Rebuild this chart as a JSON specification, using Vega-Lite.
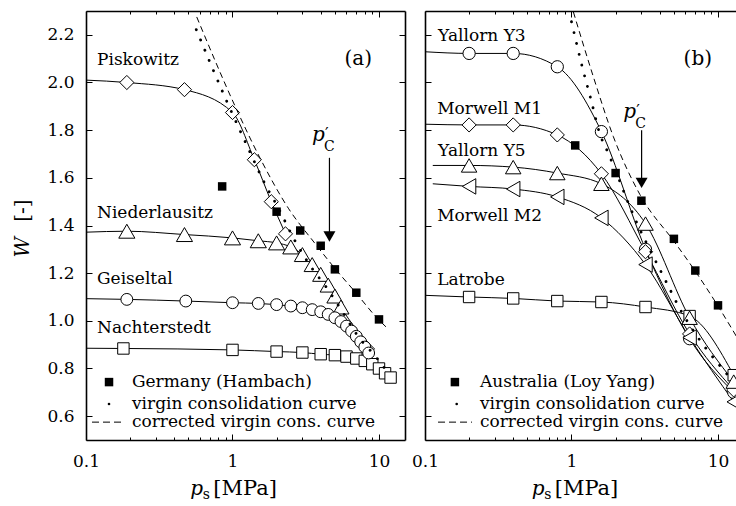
{
"$schema":"https://vega.github.io/schema/vega-lite/v6.json",
"background":"white",
"padding":{"left":12,"top":10,"right":0,"bottom":0},
"spacing":5,
"config":{"view":{"stroke":null},"axis":{"domainColor":"black","domainWidth":1.6,"tickColor":"black","tickWidth":1,"labelFont":"DejaVu Serif","labelFontSize":17,"labelColor":"black","grid":false},"text":{"font":"DejaVu Serif","fontSize":17,"color":"black"}},
"datasets":{
"markers":[
{"panel":"a","s":"Piskowitz","x":0.19,"y":2.0},{"panel":"a","s":"Piskowitz","x":0.47,"y":1.97},{"panel":"a","s":"Piskowitz","x":1.0,"y":1.874},{"panel":"a","s":"Piskowitz","x":1.41,"y":1.676},{"panel":"a","s":"Piskowitz","x":1.84,"y":1.5},{"panel":"a","s":"Piskowitz","x":2.3,"y":1.365},
{"panel":"a","s":"Niederlausitz","x":0.19,"y":1.376},{"panel":"a","s":"Niederlausitz","x":0.47,"y":1.362},{"panel":"a","s":"Niederlausitz","x":1.0,"y":1.348},{"panel":"a","s":"Niederlausitz","x":1.5,"y":1.336},{"panel":"a","s":"Niederlausitz","x":2.0,"y":1.327},{"panel":"a","s":"Niederlausitz","x":2.5,"y":1.31},{"panel":"a","s":"Niederlausitz","x":3.0,"y":1.278},{"panel":"a","s":"Niederlausitz","x":3.5,"y":1.236},{"panel":"a","s":"Niederlausitz","x":4.0,"y":1.195},{"panel":"a","s":"Niederlausitz","x":4.5,"y":1.15},{"panel":"a","s":"Niederlausitz","x":5.0,"y":1.104},{"panel":"a","s":"Niederlausitz","x":5.5,"y":1.058},
{"panel":"a","s":"Geiseltal","x":0.19,"y":1.09},{"panel":"a","s":"Geiseltal","x":0.48,"y":1.083},{"panel":"a","s":"Geiseltal","x":1,"y":1.076},{"panel":"a","s":"Geiseltal","x":1.5,"y":1.073},{"panel":"a","s":"Geiseltal","x":2,"y":1.068},{"panel":"a","s":"Geiseltal","x":2.5,"y":1.062},{"panel":"a","s":"Geiseltal","x":3,"y":1.055},{"panel":"a","s":"Geiseltal","x":3.5,"y":1.047},{"panel":"a","s":"Geiseltal","x":4,"y":1.038},{"panel":"a","s":"Geiseltal","x":4.5,"y":1.027},{"panel":"a","s":"Geiseltal","x":5,"y":1.013},{"panel":"a","s":"Geiseltal","x":5.5,"y":0.997},{"panel":"a","s":"Geiseltal","x":6,"y":0.978},{"panel":"a","s":"Geiseltal","x":6.5,"y":0.957},{"panel":"a","s":"Geiseltal","x":7,"y":0.935},{"panel":"a","s":"Geiseltal","x":7.5,"y":0.912},{"panel":"a","s":"Geiseltal","x":8,"y":0.89},{"panel":"a","s":"Geiseltal","x":8.5,"y":0.865},
{"panel":"a","s":"Nachterstedt","x":0.18,"y":0.884},{"panel":"a","s":"Nachterstedt","x":1,"y":0.878},{"panel":"a","s":"Nachterstedt","x":2,"y":0.871},{"panel":"a","s":"Nachterstedt","x":3,"y":0.867},{"panel":"a","s":"Nachterstedt","x":4,"y":0.86},{"panel":"a","s":"Nachterstedt","x":5,"y":0.856},{"panel":"a","s":"Nachterstedt","x":6,"y":0.85},{"panel":"a","s":"Nachterstedt","x":7,"y":0.842},{"panel":"a","s":"Nachterstedt","x":8,"y":0.832},{"panel":"a","s":"Nachterstedt","x":9,"y":0.818},{"panel":"a","s":"Nachterstedt","x":10,"y":0.8},{"panel":"a","s":"Nachterstedt","x":11,"y":0.78},{"panel":"a","s":"Nachterstedt","x":12,"y":0.762},
{"panel":"b","s":"Yallorn Y3","x":0.2,"y":2.122},{"panel":"b","s":"Yallorn Y3","x":0.4,"y":2.122},{"panel":"b","s":"Yallorn Y3","x":0.8,"y":2.066},{"panel":"b","s":"Yallorn Y3","x":1.6,"y":1.794},{"panel":"b","s":"Yallorn Y3","x":3.2,"y":1.3},{"panel":"b","s":"Yallorn Y3","x":6.4,"y":0.925},{"panel":"b","s":"Yallorn Y3","x":12.8,"y":0.7},
{"panel":"b","s":"Morwell M1","x":0.2,"y":1.822},{"panel":"b","s":"Morwell M1","x":0.4,"y":1.822},{"panel":"b","s":"Morwell M1","x":0.8,"y":1.78},{"panel":"b","s":"Morwell M1","x":1.6,"y":1.617},{"panel":"b","s":"Morwell M1","x":3.2,"y":1.29},{"panel":"b","s":"Morwell M1","x":6.4,"y":0.945},{"panel":"b","s":"Morwell M1","x":12.8,"y":0.71},
{"panel":"b","s":"Yallorn Y5","x":0.2,"y":1.652},{"panel":"b","s":"Yallorn Y5","x":0.4,"y":1.645},{"panel":"b","s":"Yallorn Y5","x":0.8,"y":1.62},{"panel":"b","s":"Yallorn Y5","x":1.6,"y":1.575},{"panel":"b","s":"Yallorn Y5","x":3.2,"y":1.408},{"panel":"b","s":"Yallorn Y5","x":6.4,"y":1.013},{"panel":"b","s":"Yallorn Y5","x":12.8,"y":0.745},
{"panel":"b","s":"Morwell M2","x":0.2,"y":1.564},{"panel":"b","s":"Morwell M2","x":0.4,"y":1.553},{"panel":"b","s":"Morwell M2","x":0.8,"y":1.52},{"panel":"b","s":"Morwell M2","x":1.6,"y":1.432},{"panel":"b","s":"Morwell M2","x":3.2,"y":1.236},{"panel":"b","s":"Morwell M2","x":6.4,"y":0.93},{"panel":"b","s":"Morwell M2","x":12.8,"y":0.66},
{"panel":"b","s":"Latrobe","x":0.2,"y":1.1},{"panel":"b","s":"Latrobe","x":0.4,"y":1.094},{"panel":"b","s":"Latrobe","x":0.8,"y":1.083},{"panel":"b","s":"Latrobe","x":1.6,"y":1.079},{"panel":"b","s":"Latrobe","x":3.2,"y":1.058},{"panel":"b","s":"Latrobe","x":6.4,"y":1.02},{"panel":"b","s":"Latrobe","x":12.8,"y":0.772}
],
"curves":[
{"panel":"a","s":"Piskowitz","x":0.1,"y":2.01},{"panel":"a","s":"Piskowitz","x":0.19,"y":2.0},{"panel":"a","s":"Piskowitz","x":0.47,"y":1.97},{"panel":"a","s":"Piskowitz","x":1.0,"y":1.874},{"panel":"a","s":"Piskowitz","x":1.41,"y":1.676},{"panel":"a","s":"Piskowitz","x":1.84,"y":1.5},{"panel":"a","s":"Piskowitz","x":2.3,"y":1.365},
{"panel":"a","s":"Niederlausitz","x":0.1,"y":1.372},{"panel":"a","s":"Niederlausitz","x":0.19,"y":1.376},{"panel":"a","s":"Niederlausitz","x":0.47,"y":1.362},{"panel":"a","s":"Niederlausitz","x":1.0,"y":1.348},{"panel":"a","s":"Niederlausitz","x":1.5,"y":1.336},{"panel":"a","s":"Niederlausitz","x":2.0,"y":1.327},{"panel":"a","s":"Niederlausitz","x":2.5,"y":1.31},{"panel":"a","s":"Niederlausitz","x":3.0,"y":1.278},{"panel":"a","s":"Niederlausitz","x":3.5,"y":1.236},{"panel":"a","s":"Niederlausitz","x":4.0,"y":1.195},{"panel":"a","s":"Niederlausitz","x":4.5,"y":1.15},{"panel":"a","s":"Niederlausitz","x":5.0,"y":1.104},{"panel":"a","s":"Niederlausitz","x":5.5,"y":1.058},{"panel":"a","s":"Niederlausitz","x":7.0,"y":0.965},{"panel":"a","s":"Niederlausitz","x":9.4,"y":0.88},
{"panel":"a","s":"Geiseltal","x":0.1,"y":1.093},{"panel":"a","s":"Geiseltal","x":0.19,"y":1.09},{"panel":"a","s":"Geiseltal","x":0.48,"y":1.083},{"panel":"a","s":"Geiseltal","x":1,"y":1.076},{"panel":"a","s":"Geiseltal","x":1.5,"y":1.073},{"panel":"a","s":"Geiseltal","x":2,"y":1.068},{"panel":"a","s":"Geiseltal","x":2.5,"y":1.062},{"panel":"a","s":"Geiseltal","x":3,"y":1.055},{"panel":"a","s":"Geiseltal","x":3.5,"y":1.047},{"panel":"a","s":"Geiseltal","x":4,"y":1.038},{"panel":"a","s":"Geiseltal","x":4.5,"y":1.027},{"panel":"a","s":"Geiseltal","x":5,"y":1.013},{"panel":"a","s":"Geiseltal","x":5.5,"y":0.997},{"panel":"a","s":"Geiseltal","x":6,"y":0.978},{"panel":"a","s":"Geiseltal","x":6.5,"y":0.957},{"panel":"a","s":"Geiseltal","x":7,"y":0.935},{"panel":"a","s":"Geiseltal","x":7.5,"y":0.912},{"panel":"a","s":"Geiseltal","x":8,"y":0.89},{"panel":"a","s":"Geiseltal","x":8.5,"y":0.865},
{"panel":"a","s":"Nachterstedt","x":0.1,"y":0.885},{"panel":"a","s":"Nachterstedt","x":0.18,"y":0.884},{"panel":"a","s":"Nachterstedt","x":1,"y":0.878},{"panel":"a","s":"Nachterstedt","x":2,"y":0.871},{"panel":"a","s":"Nachterstedt","x":3,"y":0.867},{"panel":"a","s":"Nachterstedt","x":4,"y":0.86},{"panel":"a","s":"Nachterstedt","x":5,"y":0.856},{"panel":"a","s":"Nachterstedt","x":6,"y":0.85},{"panel":"a","s":"Nachterstedt","x":7,"y":0.842},{"panel":"a","s":"Nachterstedt","x":8,"y":0.832},{"panel":"a","s":"Nachterstedt","x":9,"y":0.818},{"panel":"a","s":"Nachterstedt","x":10,"y":0.8},{"panel":"a","s":"Nachterstedt","x":11,"y":0.78},{"panel":"a","s":"Nachterstedt","x":12,"y":0.762},
{"panel":"b","s":"Yallorn Y3","x":0.1,"y":2.129},{"panel":"b","s":"Yallorn Y3","x":0.2,"y":2.122},{"panel":"b","s":"Yallorn Y3","x":0.4,"y":2.122},{"panel":"b","s":"Yallorn Y3","x":0.8,"y":2.066},{"panel":"b","s":"Yallorn Y3","x":1.6,"y":1.794},{"panel":"b","s":"Yallorn Y3","x":3.2,"y":1.3},{"panel":"b","s":"Yallorn Y3","x":6.4,"y":0.925},{"panel":"b","s":"Yallorn Y3","x":12.8,"y":0.7},
{"panel":"b","s":"Morwell M1","x":0.1,"y":1.825},{"panel":"b","s":"Morwell M1","x":0.2,"y":1.822},{"panel":"b","s":"Morwell M1","x":0.4,"y":1.822},{"panel":"b","s":"Morwell M1","x":0.8,"y":1.78},{"panel":"b","s":"Morwell M1","x":1.6,"y":1.617},{"panel":"b","s":"Morwell M1","x":3.2,"y":1.29},{"panel":"b","s":"Morwell M1","x":6.4,"y":0.945},{"panel":"b","s":"Morwell M1","x":12.8,"y":0.71},
{"panel":"b","s":"Yallorn Y5","x":0.113,"y":1.652},{"panel":"b","s":"Yallorn Y5","x":0.2,"y":1.652},{"panel":"b","s":"Yallorn Y5","x":0.4,"y":1.645},{"panel":"b","s":"Yallorn Y5","x":0.8,"y":1.62},{"panel":"b","s":"Yallorn Y5","x":1.6,"y":1.575},{"panel":"b","s":"Yallorn Y5","x":3.2,"y":1.408},{"panel":"b","s":"Yallorn Y5","x":6.4,"y":1.013},{"panel":"b","s":"Yallorn Y5","x":12.8,"y":0.745},
{"panel":"b","s":"Morwell M2","x":0.113,"y":1.575},{"panel":"b","s":"Morwell M2","x":0.2,"y":1.564},{"panel":"b","s":"Morwell M2","x":0.4,"y":1.553},{"panel":"b","s":"Morwell M2","x":0.8,"y":1.52},{"panel":"b","s":"Morwell M2","x":1.6,"y":1.432},{"panel":"b","s":"Morwell M2","x":3.2,"y":1.236},{"panel":"b","s":"Morwell M2","x":6.4,"y":0.93},{"panel":"b","s":"Morwell M2","x":12.8,"y":0.66},
{"panel":"b","s":"Latrobe","x":0.1,"y":1.107},{"panel":"b","s":"Latrobe","x":0.2,"y":1.1},{"panel":"b","s":"Latrobe","x":0.4,"y":1.094},{"panel":"b","s":"Latrobe","x":0.8,"y":1.083},{"panel":"b","s":"Latrobe","x":1.6,"y":1.079},{"panel":"b","s":"Latrobe","x":3.2,"y":1.058},{"panel":"b","s":"Latrobe","x":6.4,"y":1.02},{"panel":"b","s":"Latrobe","x":12.8,"y":0.772}
],
"virgin":[
{"panel":"a","x":0.566,"y":2.222},{"panel":"a","x":0.905,"y":1.927},{"panel":"a","x":1.25,"y":1.738},{"panel":"a","x":1.7,"y":1.564},{"panel":"a","x":2.0,"y":1.487},{"panel":"a","x":2.68,"y":1.334},{"panel":"a","x":3.43,"y":1.227},{"panel":"a","x":4.44,"y":1.135},{"panel":"a","x":5.5,"y":1.048},{"panel":"a","x":7.3,"y":0.93},{"panel":"a","x":9.4,"y":0.853},{"panel":"a","x":11.95,"y":0.769},
{"panel":"b","x":1.0,"y":2.255},{"panel":"b","x":1.19,"y":2.06},{"panel":"b","x":1.36,"y":1.927},{"panel":"b","x":1.55,"y":1.79},{"panel":"b","x":1.78,"y":1.704},{"panel":"b","x":2.03,"y":1.62},{"panel":"b","x":2.44,"y":1.495},{"panel":"b","x":2.93,"y":1.383},{"panel":"b","x":3.55,"y":1.28},{"panel":"b","x":4.46,"y":1.16},{"panel":"b","x":5.5,"y":1.05},{"panel":"b","x":6.85,"y":0.955},{"panel":"b","x":8.5,"y":0.875},{"panel":"b","x":10.2,"y":0.815},{"panel":"b","x":12.5,"y":0.75}
],
"corrected":[
{"panel":"a","x":0.57,"y":2.275},{"panel":"a","x":1.07,"y":1.885},{"panel":"a","x":1.55,"y":1.68},{"panel":"a","x":2.42,"y":1.47},{"panel":"a","x":3.6,"y":1.33},{"panel":"a","x":5.0,"y":1.22},{"panel":"a","x":6.9,"y":1.12},{"panel":"a","x":9.9,"y":1.006},{"panel":"a","x":11.6,"y":0.965},
{"panel":"b","x":1.03,"y":2.296},{"panel":"b","x":1.41,"y":2.024},{"panel":"b","x":1.93,"y":1.773},{"panel":"b","x":2.93,"y":1.53},{"panel":"b","x":5.1,"y":1.327},{"panel":"b","x":7.0,"y":1.208},{"panel":"b","x":10.0,"y":1.062},{"panel":"b","x":13.5,"y":0.93}
],
"exp":[
{"panel":"a","x":0.85,"y":1.564},{"panel":"a","x":2.0,"y":1.458},{"panel":"a","x":2.9,"y":1.379},{"panel":"a","x":4.0,"y":1.315},{"panel":"a","x":5.0,"y":1.216},{"panel":"a","x":7.0,"y":1.118},{"panel":"a","x":10.0,"y":1.006},
{"panel":"b","x":1.06,"y":1.736},{"panel":"b","x":2.0,"y":1.62},{"panel":"b","x":3.0,"y":1.504},{"panel":"b","x":5.0,"y":1.344},{"panel":"b","x":7.0,"y":1.211},{"panel":"b","x":10.0,"y":1.065}
],
"arrow":[
{"panel":"a","x":4.59,"y":1.684,"yh":1.354},
{"panel":"b","x":3.01,"y":1.8,"yh":1.579}
],
"pc":[
{"panel":"a","x":3.49,"y":1.755,"p":"p","prime":"′","sub":"C"},
{"panel":"b","x":2.258,"y":1.853,"p":"p","prime":"′","sub":"C"}
],
"labels":[
{"panel":"a","t":"Piskowitz","x":0.1189,"y":2.073},{"panel":"a","t":"Niederlausitz","x":0.1189,"y":1.432},{"panel":"a","t":"Geiseltal","x":0.1189,"y":1.153},{"panel":"a","t":"Nachterstedt","x":0.1189,"y":0.948},
{"panel":"a","t":"Germany (Hambach)","x":0.206,"y":0.722},{"panel":"a","t":"virgin consolidation curve","x":0.206,"y":0.632},{"panel":"a","t":"corrected virgin cons. curve","x":0.206,"y":0.553},
{"panel":"b","t":"Yallorn Y3","x":0.1227,"y":2.175},{"panel":"b","t":"Morwell M1","x":0.121,"y":1.867},{"panel":"b","t":"Yallorn Y5","x":0.1227,"y":1.692},{"panel":"b","t":"Morwell M2","x":0.121,"y":1.42},{"panel":"b","t":"Latrobe","x":0.121,"y":1.151},
{"panel":"b","t":"Australia (Loy Yang)","x":0.2372,"y":0.722},{"panel":"b","t":"virgin consolidation curve","x":0.2372,"y":0.632},{"panel":"b","t":"corrected virgin cons. curve","x":0.2372,"y":0.553}
],
"tags":[{"panel":"a","t":"(a)","x":8.96,"y":2.075},{"panel":"b","t":"(b)","x":9.1,"y":2.073}],
"legsq":[{"panel":"a","x":0.1436,"y":0.743},{"panel":"b","x":0.16,"y":0.743}],
"legdot":[{"panel":"a","x":0.1436,"y":0.651},{"panel":"b","x":0.1646,"y":0.651}],
"legdash":[{"panel":"a","x":0.1099,"y":0.575},{"panel":"a","x":0.1817,"y":0.575},{"panel":"b","x":0.1227,"y":0.575},{"panel":"b","x":0.2094,"y":0.575}],
"xtitle":[{"panel":"a","x":0.515,"y":0.27,"p":"p","s":"s","u":"[MPa]"},{"panel":"b","x":0.535,"y":0.27,"p":"p","s":"s","u":"[MPa]"}],
"ytitle":[{"panel":"a","x":0.0408,"y":1.266,"yb":1.416,"w":"W","b":"[-]"}]
},
"hconcat":[
{"width":319,"height":429,
"resolve":{"axis":{"x":"independent","y":"independent"}},
"layer":[
{"data":{"name":"curves"},"transform":[{"filter":"datum.panel=='a'"}],"mark":{"type":"line","color":"black","strokeWidth":1,"interpolate":"monotone","clip":true},
"encoding":{"x":{"field":"x","type":"quantitative","scale":{"type":"log","domain":[0.1,15.05],"nice":false},"axis":{"orient":"bottom","values":[0.1,0.2,0.3,0.4,0.5,0.6,0.7,0.8,0.9,1,2,3,4,5,6,7,8,9,10],"labelExpr":"datum.value==0.1?'0.1':datum.value==1?'1':datum.value==10?'10':''","tickSize":{"condition":{"test":"datum.value==0.1||datum.value==1||datum.value==10","value":-6},"value":-3},"labelPadding":19,"labelBaseline":"top","labelFlush":false,"labelOverlap":false,"labelFont":"DejaVu Serif","title":null}},
"y":{"field":"y","type":"quantitative","scale":{"domain":[0.5,2.3],"nice":false,"zero":false},"axis":{"orient":"left","values":[0.6,0.8,1.0,1.2,1.4,1.6,1.8,2.0,2.2],"format":".1f","tickSize":-6,"labelPadding":18,"labelFont":"DejaVu Serif","title":null}},
"detail":{"field":"s"}}},
{"data":{"name":"markers"},"transform":[{"filter":"datum.panel=='a' && datum.s=='Piskowitz'"}],"mark":{"type":"point","shape":"diamond","size":200,"filled":true,"fill":"white","stroke":"black","strokeWidth":1,"opacity":1,"clip":true},
"encoding":{"x":{"field":"x","type":"quantitative","scale":{"type":"log","domain":[0.1,15.05],"nice":false},"axis":{"orient":"top","values":[0.1,0.2,0.3,0.4,0.5,0.6,0.7,0.8,0.9,1,2,3,4,5,6,7,8,9,10],"labels":false,"tickSize":{"condition":{"test":"datum.value==0.1||datum.value==1||datum.value==10","value":-6},"value":-3},"title":null}},
"y":{"field":"y","type":"quantitative","scale":{"domain":[0.5,2.3],"nice":false,"zero":false},"axis":{"orient":"right","values":[0.6,0.8,1.0,1.2,1.4,1.6,1.8,2.0,2.2],"labels":false,"tickSize":-6,"title":null}}}},
{"data":{"name":"markers"},"transform":[{"filter":"datum.panel=='a' && datum.s=='Nachterstedt'"}],"mark":{"type":"point","shape":"square","size":130,"filled":true,"fill":"white","stroke":"black","strokeWidth":1,"opacity":1,"clip":true},
"encoding":{"x":{"field":"x","type":"quantitative","scale":{"type":"log","domain":[0.1,15.05],"nice":false},"axis":null},"y":{"field":"y","type":"quantitative","scale":{"domain":[0.5,2.3],"nice":false,"zero":false},"axis":null}}},
{"data":{"name":"markers"},"transform":[{"filter":"datum.panel=='a' && datum.s=='Niederlausitz'"}],"mark":{"type":"point","shape":"triangle-up","size":260,"filled":true,"fill":"white","stroke":"black","strokeWidth":1,"opacity":1,"clip":true},
"encoding":{"x":{"field":"x","type":"quantitative","scale":{"type":"log","domain":[0.1,15.05],"nice":false},"axis":null},"y":{"field":"y","type":"quantitative","scale":{"domain":[0.5,2.3],"nice":false,"zero":false},"axis":null}}},
{"data":{"name":"markers"},"transform":[{"filter":"datum.panel=='a' && datum.s=='Geiseltal'"}],"mark":{"type":"point","shape":"circle","size":140,"filled":true,"fill":"white","stroke":"black","strokeWidth":1,"opacity":1,"clip":true},
"encoding":{"x":{"field":"x","type":"quantitative","scale":{"type":"log","domain":[0.1,15.05],"nice":false},"axis":null},"y":{"field":"y","type":"quantitative","scale":{"domain":[0.5,2.3],"nice":false,"zero":false},"axis":null}}},
{"data":{"name":"corrected"},"transform":[{"filter":"datum.panel=='a'"}],"mark":{"type":"line","color":"black","strokeWidth":1,"strokeDash":[6,4],"interpolate":"monotone","clip":true},
"encoding":{"x":{"field":"x","type":"quantitative","scale":{"type":"log","domain":[0.1,15.05],"nice":false},"axis":null},"y":{"field":"y","type":"quantitative","scale":{"domain":[0.5,2.3],"nice":false,"zero":false},"axis":null}}},
{"data":{"name":"virgin"},"transform":[{"filter":"datum.panel=='a'"}],"mark":{"type":"line","color":"black","strokeWidth":2.8,"strokeDash":[0.1,11],"strokeCap":"round","interpolate":"monotone","clip":true},
"encoding":{"x":{"field":"x","type":"quantitative","scale":{"type":"log","domain":[0.1,15.05],"nice":false},"axis":null},"y":{"field":"y","type":"quantitative","scale":{"domain":[0.5,2.3],"nice":false,"zero":false},"axis":null}}},
{"data":{"name":"exp"},"transform":[{"filter":"datum.panel=='a'"}],"mark":{"type":"point","shape":"square","size":72,"filled":true,"color":"black","opacity":1,"clip":true},
"encoding":{"x":{"field":"x","type":"quantitative","scale":{"type":"log","domain":[0.1,15.05],"nice":false},"axis":null},"y":{"field":"y","type":"quantitative","scale":{"domain":[0.5,2.3],"nice":false,"zero":false},"axis":null}}},
{"data":{"name":"arrow"},"transform":[{"filter":"datum.panel=='a'"}],"mark":{"type":"rule","color":"black","strokeWidth":1.2},
"encoding":{"x":{"field":"x","type":"quantitative","scale":{"type":"log","domain":[0.1,15.05],"nice":false},"axis":null},"y":{"field":"y","type":"quantitative","scale":{"domain":[0.5,2.3],"nice":false,"zero":false},"axis":null},"y2":{"field":"yh"}}},
{"data":{"name":"arrow"},"transform":[{"filter":"datum.panel=='a'"}],"mark":{"type":"point","shape":"triangle-down","size":144,"filled":true,"color":"black","opacity":1},
"encoding":{"x":{"field":"x","type":"quantitative","scale":{"type":"log","domain":[0.1,15.05],"nice":false},"axis":null},"y":{"field":"yh","type":"quantitative","scale":{"domain":[0.5,2.3],"nice":false,"zero":false},"axis":null}}},
{"data":{"name":"labels"},"transform":[{"filter":"datum.panel=='a'"}],"mark":{"type":"text","align":"left","baseline":"alphabetic","font":"DejaVu Serif","fontSize":17,"clip":true},
"encoding":{"x":{"field":"x","type":"quantitative","scale":{"type":"log","domain":[0.1,15.05],"nice":false},"axis":null},"y":{"field":"y","type":"quantitative","scale":{"domain":[0.5,2.3],"nice":false,"zero":false},"axis":null},"text":{"field":"t"}}},
{"data":{"name":"tags"},"transform":[{"filter":"datum.panel=='a'"}],"mark":{"type":"text","align":"right","baseline":"alphabetic","font":"DejaVu Serif","fontSize":20},
"encoding":{"x":{"field":"x","type":"quantitative","scale":{"type":"log","domain":[0.1,15.05],"nice":false},"axis":null},"y":{"field":"y","type":"quantitative","scale":{"domain":[0.5,2.3],"nice":false,"zero":false},"axis":null},"text":{"field":"t"}}},
{"data":{"name":"pc"},"transform":[{"filter":"datum.panel=='a'"}],"mark":{"type":"text","align":"left","baseline":"alphabetic","font":"DejaVu Serif","fontSize":20,"fontStyle":"italic"},
"encoding":{"x":{"field":"x","type":"quantitative","scale":{"type":"log","domain":[0.1,15.05],"nice":false},"axis":null},"y":{"field":"y","type":"quantitative","scale":{"domain":[0.5,2.3],"nice":false,"zero":false},"axis":null},"text":{"field":"p"}}},
{"data":{"name":"pc"},"transform":[{"filter":"datum.panel=='a'"}],"mark":{"type":"text","align":"left","baseline":"alphabetic","font":"DejaVu Serif","fontSize":16,"dx":13,"dy":-2},
"encoding":{"x":{"field":"x","type":"quantitative","scale":{"type":"log","domain":[0.1,15.05],"nice":false},"axis":null},"y":{"field":"y","type":"quantitative","scale":{"domain":[0.5,2.3],"nice":false,"zero":false},"axis":null},"text":{"field":"prime"}}},
{"data":{"name":"pc"},"transform":[{"filter":"datum.panel=='a'"}],"mark":{"type":"text","align":"left","baseline":"alphabetic","font":"DejaVu Serif","fontSize":14,"dx":12,"dy":10.5},
"encoding":{"x":{"field":"x","type":"quantitative","scale":{"type":"log","domain":[0.1,15.05],"nice":false},"axis":null},"y":{"field":"y","type":"quantitative","scale":{"domain":[0.5,2.3],"nice":false,"zero":false},"axis":null},"text":{"field":"sub"}}},
{"data":{"name":"legsq"},"transform":[{"filter":"datum.panel=='a'"}],"mark":{"type":"point","shape":"square","size":72,"filled":true,"color":"black","opacity":1},
"encoding":{"x":{"field":"x","type":"quantitative","scale":{"type":"log","domain":[0.1,15.05],"nice":false},"axis":null},"y":{"field":"y","type":"quantitative","scale":{"domain":[0.5,2.3],"nice":false,"zero":false},"axis":null}}},
{"data":{"name":"legdot"},"transform":[{"filter":"datum.panel=='a'"}],"mark":{"type":"point","shape":"circle","size":7,"filled":true,"color":"black","opacity":1},
"encoding":{"x":{"field":"x","type":"quantitative","scale":{"type":"log","domain":[0.1,15.05],"nice":false},"axis":null},"y":{"field":"y","type":"quantitative","scale":{"domain":[0.5,2.3],"nice":false,"zero":false},"axis":null}}},
{"data":{"name":"legdash"},"transform":[{"filter":"datum.panel=='a'"}],"mark":{"type":"line","color":"black","strokeWidth":1,"strokeDash":[7,4]},
"encoding":{"x":{"field":"x","type":"quantitative","scale":{"type":"log","domain":[0.1,15.05],"nice":false},"axis":null},"y":{"field":"y","type":"quantitative","scale":{"domain":[0.5,2.3],"nice":false,"zero":false},"axis":null}}},
{"data":{"name":"xtitle"},"transform":[{"filter":"datum.panel=='a'"}],"mark":{"type":"text","align":"left","baseline":"alphabetic","font":"DejaVu Serif","fontSize":20,"fontStyle":"italic"},
"encoding":{"x":{"field":"x","type":"quantitative","scale":{"type":"log","domain":[0.1,15.05],"nice":false},"axis":null},"y":{"field":"y","type":"quantitative","scale":{"domain":[0.5,2.3],"nice":false,"zero":false},"axis":null},"text":{"field":"p"}}},
{"data":{"name":"xtitle"},"transform":[{"filter":"datum.panel=='a'"}],"mark":{"type":"text","align":"left","baseline":"alphabetic","font":"DejaVu Serif","fontSize":14,"dx":12.5,"dy":4},
"encoding":{"x":{"field":"x","type":"quantitative","scale":{"type":"log","domain":[0.1,15.05],"nice":false},"axis":null},"y":{"field":"y","type":"quantitative","scale":{"domain":[0.5,2.3],"nice":false,"zero":false},"axis":null},"text":{"field":"s"}}},
{"data":{"name":"xtitle"},"transform":[{"filter":"datum.panel=='a'"}],"mark":{"type":"text","align":"left","baseline":"alphabetic","font":"DejaVu Serif","fontSize":21,"dx":23},
"encoding":{"x":{"field":"x","type":"quantitative","scale":{"type":"log","domain":[0.1,15.05],"nice":false},"axis":null},"y":{"field":"y","type":"quantitative","scale":{"domain":[0.5,2.3],"nice":false,"zero":false},"axis":null},"text":{"field":"u"}}},
{"data":{"name":"ytitle"},"mark":{"type":"text","align":"left","baseline":"alphabetic","font":"DejaVu Serif","fontSize":20,"fontStyle":"italic","angle":270},
"encoding":{"x":{"field":"x","type":"quantitative","scale":{"type":"log","domain":[0.1,15.05],"nice":false},"axis":null},"y":{"field":"y","type":"quantitative","scale":{"domain":[0.5,2.3],"nice":false,"zero":false},"axis":null},"text":{"field":"w"}}},
{"data":{"name":"ytitle"},"mark":{"type":"text","align":"left","baseline":"alphabetic","font":"DejaVu Serif","fontSize":20,"angle":270},
"encoding":{"x":{"field":"x","type":"quantitative","scale":{"type":"log","domain":[0.1,15.05],"nice":false},"axis":null},"y":{"field":"yb","type":"quantitative","scale":{"domain":[0.5,2.3],"nice":false,"zero":false},"axis":null},"text":{"field":"b"}}}
]},
{"width":311,"height":429,
"resolve":{"axis":{"x":"independent","y":"independent"}},
"layer":[
{"data":{"name":"curves"},"transform":[{"filter":"datum.panel=='b'"}],"mark":{"type":"line","color":"black","strokeWidth":1,"interpolate":"monotone","clip":true},
"encoding":{"x":{"field":"x","type":"quantitative","scale":{"type":"log","domain":[0.1,13.27],"nice":false},"axis":{"orient":"bottom","values":[0.1,0.2,0.3,0.4,0.5,0.6,0.7,0.8,0.9,1,2,3,4,5,6,7,8,9,10],"labelExpr":"datum.value==0.1?'0.1':datum.value==1?'1':datum.value==10?'10':''","tickSize":{"condition":{"test":"datum.value==0.1||datum.value==1||datum.value==10","value":-6},"value":-3},"labelPadding":19,"labelBaseline":"top","labelFlush":false,"labelOverlap":false,"labelFont":"DejaVu Serif","title":null}},
"y":{"field":"y","type":"quantitative","scale":{"domain":[0.5,2.3],"nice":false,"zero":false},"axis":{"orient":"left","values":[0.6,0.8,1.0,1.2,1.4,1.6,1.8,2.0,2.2],"labels":false,"tickSize":-6,"title":null}},
"detail":{"field":"s"}}},
{"data":{"name":"markers"},"transform":[{"filter":"datum.panel=='b' && datum.s=='Latrobe'"}],"mark":{"type":"point","shape":"square","size":130,"filled":true,"fill":"white","stroke":"black","strokeWidth":1,"opacity":1,"clip":true},
"encoding":{"x":{"field":"x","type":"quantitative","scale":{"type":"log","domain":[0.1,13.27],"nice":false},"axis":{"orient":"top","values":[0.1,0.2,0.3,0.4,0.5,0.6,0.7,0.8,0.9,1,2,3,4,5,6,7,8,9,10],"labels":false,"tickSize":{"condition":{"test":"datum.value==0.1||datum.value==1||datum.value==10","value":-6},"value":-3},"title":null}},
"y":{"field":"y","type":"quantitative","scale":{"domain":[0.5,2.3],"nice":false,"zero":false},"axis":null}}},
{"data":{"name":"markers"},"transform":[{"filter":"datum.panel=='b' && datum.s=='Yallorn Y3'"}],"mark":{"type":"point","shape":"circle","size":150,"filled":true,"fill":"white","stroke":"black","strokeWidth":1,"opacity":1,"clip":true},
"encoding":{"x":{"field":"x","type":"quantitative","scale":{"type":"log","domain":[0.1,13.27],"nice":false},"axis":null},"y":{"field":"y","type":"quantitative","scale":{"domain":[0.5,2.3],"nice":false,"zero":false},"axis":null}}},
{"data":{"name":"markers"},"transform":[{"filter":"datum.panel=='b' && datum.s=='Morwell M1'"}],"mark":{"type":"point","shape":"diamond","size":200,"filled":true,"fill":"white","stroke":"black","strokeWidth":1,"opacity":1,"clip":true},
"encoding":{"x":{"field":"x","type":"quantitative","scale":{"type":"log","domain":[0.1,13.27],"nice":false},"axis":null},"y":{"field":"y","type":"quantitative","scale":{"domain":[0.5,2.3],"nice":false,"zero":false},"axis":null}}},
{"data":{"name":"markers"},"transform":[{"filter":"datum.panel=='b' && datum.s=='Morwell M2'"}],"mark":{"type":"point","shape":"triangle-left","size":240,"filled":true,"fill":"white","stroke":"black","strokeWidth":1,"opacity":1,"clip":true},
"encoding":{"x":{"field":"x","type":"quantitative","scale":{"type":"log","domain":[0.1,13.27],"nice":false},"axis":null},"y":{"field":"y","type":"quantitative","scale":{"domain":[0.5,2.3],"nice":false,"zero":false},"axis":null}}},
{"data":{"name":"markers"},"transform":[{"filter":"datum.panel=='b' && datum.s=='Yallorn Y5'"}],"mark":{"type":"point","shape":"triangle-up","size":240,"filled":true,"fill":"white","stroke":"black","strokeWidth":1,"opacity":1,"clip":true},
"encoding":{"x":{"field":"x","type":"quantitative","scale":{"type":"log","domain":[0.1,13.27],"nice":false},"axis":null},"y":{"field":"y","type":"quantitative","scale":{"domain":[0.5,2.3],"nice":false,"zero":false},"axis":null}}},
{"data":{"name":"corrected"},"transform":[{"filter":"datum.panel=='b'"}],"mark":{"type":"line","color":"black","strokeWidth":1,"strokeDash":[6,4],"interpolate":"monotone","clip":true},
"encoding":{"x":{"field":"x","type":"quantitative","scale":{"type":"log","domain":[0.1,13.27],"nice":false},"axis":null},"y":{"field":"y","type":"quantitative","scale":{"domain":[0.5,2.3],"nice":false,"zero":false},"axis":null}}},
{"data":{"name":"virgin"},"transform":[{"filter":"datum.panel=='b'"}],"mark":{"type":"line","color":"black","strokeWidth":2.8,"strokeDash":[0.1,11],"strokeCap":"round","interpolate":"monotone","clip":true},
"encoding":{"x":{"field":"x","type":"quantitative","scale":{"type":"log","domain":[0.1,13.27],"nice":false},"axis":null},"y":{"field":"y","type":"quantitative","scale":{"domain":[0.5,2.3],"nice":false,"zero":false},"axis":null}}},
{"data":{"name":"exp"},"transform":[{"filter":"datum.panel=='b'"}],"mark":{"type":"point","shape":"square","size":72,"filled":true,"color":"black","opacity":1,"clip":true},
"encoding":{"x":{"field":"x","type":"quantitative","scale":{"type":"log","domain":[0.1,13.27],"nice":false},"axis":null},"y":{"field":"y","type":"quantitative","scale":{"domain":[0.5,2.3],"nice":false,"zero":false},"axis":null}}},
{"data":{"name":"arrow"},"transform":[{"filter":"datum.panel=='b'"}],"mark":{"type":"rule","color":"black","strokeWidth":1.2},
"encoding":{"x":{"field":"x","type":"quantitative","scale":{"type":"log","domain":[0.1,13.27],"nice":false},"axis":null},"y":{"field":"y","type":"quantitative","scale":{"domain":[0.5,2.3],"nice":false,"zero":false},"axis":null},"y2":{"field":"yh"}}},
{"data":{"name":"arrow"},"transform":[{"filter":"datum.panel=='b'"}],"mark":{"type":"point","shape":"triangle-down","size":144,"filled":true,"color":"black","opacity":1},
"encoding":{"x":{"field":"x","type":"quantitative","scale":{"type":"log","domain":[0.1,13.27],"nice":false},"axis":null},"y":{"field":"yh","type":"quantitative","scale":{"domain":[0.5,2.3],"nice":false,"zero":false},"axis":null}}},
{"data":{"name":"labels"},"transform":[{"filter":"datum.panel=='b'"}],"mark":{"type":"text","align":"left","baseline":"alphabetic","font":"DejaVu Serif","fontSize":17,"clip":true},
"encoding":{"x":{"field":"x","type":"quantitative","scale":{"type":"log","domain":[0.1,13.27],"nice":false},"axis":null},"y":{"field":"y","type":"quantitative","scale":{"domain":[0.5,2.3],"nice":false,"zero":false},"axis":null},"text":{"field":"t"}}},
{"data":{"name":"tags"},"transform":[{"filter":"datum.panel=='b'"}],"mark":{"type":"text","align":"right","baseline":"alphabetic","font":"DejaVu Serif","fontSize":20},
"encoding":{"x":{"field":"x","type":"quantitative","scale":{"type":"log","domain":[0.1,13.27],"nice":false},"axis":null},"y":{"field":"y","type":"quantitative","scale":{"domain":[0.5,2.3],"nice":false,"zero":false},"axis":null},"text":{"field":"t"}}},
{"data":{"name":"pc"},"transform":[{"filter":"datum.panel=='b'"}],"mark":{"type":"text","align":"left","baseline":"alphabetic","font":"DejaVu Serif","fontSize":20,"fontStyle":"italic"},
"encoding":{"x":{"field":"x","type":"quantitative","scale":{"type":"log","domain":[0.1,13.27],"nice":false},"axis":null},"y":{"field":"y","type":"quantitative","scale":{"domain":[0.5,2.3],"nice":false,"zero":false},"axis":null},"text":{"field":"p"}}},
{"data":{"name":"pc"},"transform":[{"filter":"datum.panel=='b'"}],"mark":{"type":"text","align":"left","baseline":"alphabetic","font":"DejaVu Serif","fontSize":16,"dx":13,"dy":-2},
"encoding":{"x":{"field":"x","type":"quantitative","scale":{"type":"log","domain":[0.1,13.27],"nice":false},"axis":null},"y":{"field":"y","type":"quantitative","scale":{"domain":[0.5,2.3],"nice":false,"zero":false},"axis":null},"text":{"field":"prime"}}},
{"data":{"name":"pc"},"transform":[{"filter":"datum.panel=='b'"}],"mark":{"type":"text","align":"left","baseline":"alphabetic","font":"DejaVu Serif","fontSize":14,"dx":12,"dy":10.5},
"encoding":{"x":{"field":"x","type":"quantitative","scale":{"type":"log","domain":[0.1,13.27],"nice":false},"axis":null},"y":{"field":"y","type":"quantitative","scale":{"domain":[0.5,2.3],"nice":false,"zero":false},"axis":null},"text":{"field":"sub"}}},
{"data":{"name":"legsq"},"transform":[{"filter":"datum.panel=='b'"}],"mark":{"type":"point","shape":"square","size":72,"filled":true,"color":"black","opacity":1},
"encoding":{"x":{"field":"x","type":"quantitative","scale":{"type":"log","domain":[0.1,13.27],"nice":false},"axis":null},"y":{"field":"y","type":"quantitative","scale":{"domain":[0.5,2.3],"nice":false,"zero":false},"axis":null}}},
{"data":{"name":"legdot"},"transform":[{"filter":"datum.panel=='b'"}],"mark":{"type":"point","shape":"circle","size":7,"filled":true,"color":"black","opacity":1},
"encoding":{"x":{"field":"x","type":"quantitative","scale":{"type":"log","domain":[0.1,13.27],"nice":false},"axis":null},"y":{"field":"y","type":"quantitative","scale":{"domain":[0.5,2.3],"nice":false,"zero":false},"axis":null}}},
{"data":{"name":"legdash"},"transform":[{"filter":"datum.panel=='b'"}],"mark":{"type":"line","color":"black","strokeWidth":1,"strokeDash":[7,4]},
"encoding":{"x":{"field":"x","type":"quantitative","scale":{"type":"log","domain":[0.1,13.27],"nice":false},"axis":null},"y":{"field":"y","type":"quantitative","scale":{"domain":[0.5,2.3],"nice":false,"zero":false},"axis":null}}},
{"data":{"name":"xtitle"},"transform":[{"filter":"datum.panel=='b'"}],"mark":{"type":"text","align":"left","baseline":"alphabetic","font":"DejaVu Serif","fontSize":20,"fontStyle":"italic"},
"encoding":{"x":{"field":"x","type":"quantitative","scale":{"type":"log","domain":[0.1,13.27],"nice":false},"axis":null},"y":{"field":"y","type":"quantitative","scale":{"domain":[0.5,2.3],"nice":false,"zero":false},"axis":null},"text":{"field":"p"}}},
{"data":{"name":"xtitle"},"transform":[{"filter":"datum.panel=='b'"}],"mark":{"type":"text","align":"left","baseline":"alphabetic","font":"DejaVu Serif","fontSize":14,"dx":12.5,"dy":4},
"encoding":{"x":{"field":"x","type":"quantitative","scale":{"type":"log","domain":[0.1,13.27],"nice":false},"axis":null},"y":{"field":"y","type":"quantitative","scale":{"domain":[0.5,2.3],"nice":false,"zero":false},"axis":null},"text":{"field":"s"}}},
{"data":{"name":"xtitle"},"transform":[{"filter":"datum.panel=='b'"}],"mark":{"type":"text","align":"left","baseline":"alphabetic","font":"DejaVu Serif","fontSize":21,"dx":23},
"encoding":{"x":{"field":"x","type":"quantitative","scale":{"type":"log","domain":[0.1,13.27],"nice":false},"axis":null},"y":{"field":"y","type":"quantitative","scale":{"domain":[0.5,2.3],"nice":false,"zero":false},"axis":null},"text":{"field":"u"}}}
]}
]
}
